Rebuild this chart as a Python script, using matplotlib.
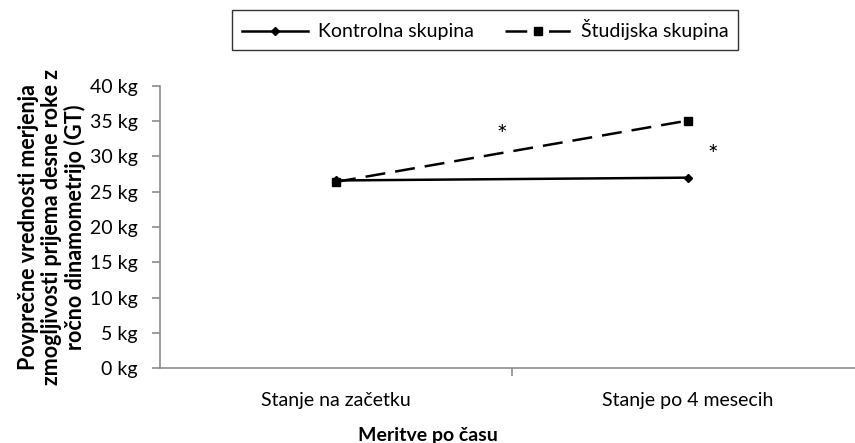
import numpy as np
import matplotlib
matplotlib.use("Agg")
import matplotlib.pyplot as plt

plt.rcParams['font.family'] = ['Lato', 'DejaVu Sans']

# Data
categories = ["Stanje na začetku", "Stanje po 4 mesecih"]
kontrolna = [26.6, 27.0]
studijska = [26.4, 35.1]
y_ticks = [0, 5, 10, 15, 20, 25, 30, 35, 40]
star_x = [0.47, 1.07]
star_y = [33.0, 30.1]

fs = 14

fig = plt.figure(figsize=(8.55, 4.43), dpi=100)
ax = fig.add_axes([160 / 855, 1 - 368 / 443, 704 / 855, 282 / 443])

x = np.arange(len(categories))
ax.plot(x, kontrolna, color='black', linestyle='-', linewidth=1.8,
        marker='D', markersize=4.5, label='Kontrolna skupina')
ax.plot(x, studijska, color='black', linestyle=(0, (8, 4)), linewidth=1.8,
        marker='s', markersize=6, label='Študijska skupina')

for sx, sy in zip(star_x, star_y):
    ax.text(sx, sy, '*', ha='center', va='center', fontsize=18)

ax.set_xlim(-0.5, 1.5)
ax.set_ylim(0, 40)
ax.set_yticks(y_ticks)
ax.set_yticklabels([f"{v} kg" for v in y_ticks], fontsize=fs)

# category labels without ticks; tick mark only between categories
ax.set_xticks([0.5])
ax.set_xticklabels([''])
for i, c in enumerate(categories):
    ax.text(i, -0.085, c, transform=ax.get_xaxis_transform(),
            ha='center', va='top', fontsize=fs)

for s in ['top', 'right']:
    ax.spines[s].set_visible(False)
for s in ['left', 'bottom']:
    ax.spines[s].set_color('#8c8c8c')
    ax.spines[s].set_linewidth(1.2)
ax.tick_params(axis='both', colors='#8c8c8c', length=6, width=1.2)
ax.tick_params(axis='y', labelcolor='black', pad=10)

ax.set_ylabel("Povprečne vrednosti merjenja\nzmogljivosti prijema desne roke z\nročno dinamometrijo (GT)",
              fontsize=15.5, fontweight='bold', linespacing=1.1, labelpad=3)
fig.text(0.5, 0.016, "Meritve po času", ha='center', va='center',
         fontsize=fs, fontweight='bold')

leg = fig.legend(loc='center', bbox_to_anchor=(485 / 855, 1 - 30 / 443), ncol=2,
                 fontsize=fs, frameon=True, fancybox=False, handlelength=3.4,
                 columnspacing=1.6, handletextpad=0.5, borderpad=0.5)
leg.get_frame().set_edgecolor('black')
leg.get_frame().set_linewidth(1.0)
# symmetric "- marker -" look for the dashed legend entry
leg.legend_handles[1].set_linestyle((0, (8.7, 8.7)))

fig.savefig('out.png', dpi=100)
